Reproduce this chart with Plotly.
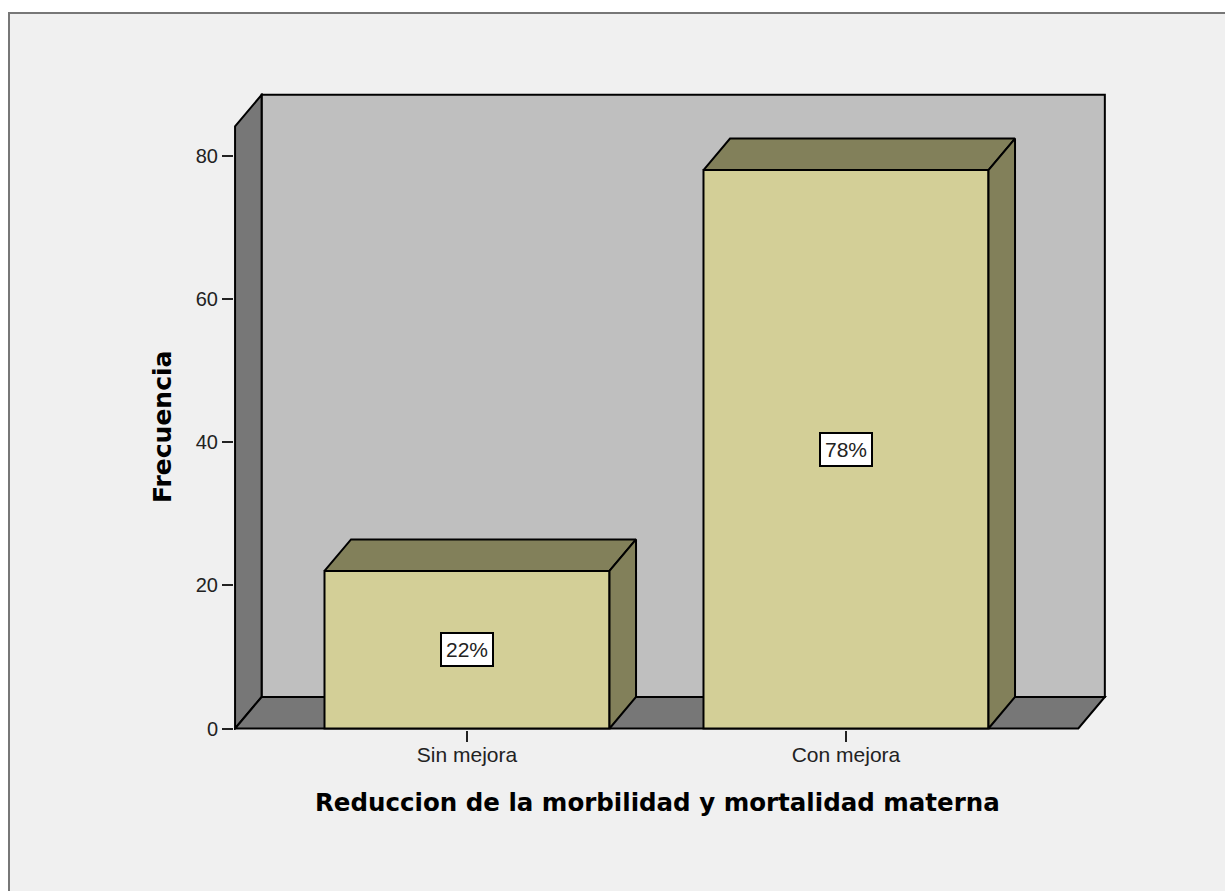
import plotly.graph_objects as go

# Data
categories = ["Sin mejora", "Con mejora"]
positions = [0, 1]
frecuencia = [22, 78]
etiquetas = ["22%", "78%"]
y_ticks = [0, 20, 40, 60, 80]

# 3D look: depth of the extrusion in axis units
bar_width = 0.752
depth_x = 0.07
depth_y = 4.4

# box of the 3D room, front plane
x_left = -0.612
x_right = 1.613
y_top = 84.1

# axis limits leave room so the outer lines of the room are not clipped
x_range = [-0.6148, 1.6887]
y_range = [-0.21, 88.76]

face = "#d3cf97"
shade = "#82805a"
wall = "#bfbfbf"
wall_dark = "#777777"
panel = "#f0f0f0"


def poly_path(points):
    return "M " + " L ".join(f"{x},{y}" for x, y in points) + " Z"


fig = go.Figure()

# front of the bars
fig.add_trace(go.Bar(
    x=positions, y=frecuencia, width=bar_width,
    marker=dict(color=face, line=dict(color="black", width=2)),
    hoverinfo="skip", showlegend=False,
))

# top and side faces of the bars
for pos, val in zip(positions, frecuencia):
    x0 = pos - bar_width / 2
    x1 = pos + bar_width / 2
    fig.add_trace(go.Scatter(
        x=[x0, x0 + depth_x, x1 + depth_x, x1, x0],
        y=[val, val + depth_y, val + depth_y, val, val],
        mode="lines", fill="toself", fillcolor=shade,
        line=dict(color="black", width=2),
        hoverinfo="skip", showlegend=False,
    ))
    fig.add_trace(go.Scatter(
        x=[x1, x1 + depth_x, x1 + depth_x, x1, x1],
        y=[0, depth_y, val + depth_y, val, 0],
        mode="lines", fill="toself", fillcolor=shade,
        line=dict(color="black", width=2),
        hoverinfo="skip", showlegend=False,
    ))

shapes = [
    # panel behind the chart, its right and bottom edges are cut by the image
    dict(type="rect", xref="paper", yref="paper", x0=9 / 1225, x1=1.1, y0=-0.1, y1=1 - 13 / 891,
         line=dict(color="#777777", width=2), fillcolor=panel, layer="below"),
    # back wall
    dict(type="path", layer="below", fillcolor=wall, line=dict(color="black", width=2),
         path=poly_path([(x_left + depth_x, depth_y), (x_right + depth_x, depth_y),
                         (x_right + depth_x, y_top + depth_y), (x_left + depth_x, y_top + depth_y)])),
    # left wall
    dict(type="path", layer="below", fillcolor=wall_dark, line=dict(color="black", width=2),
         path=poly_path([(x_left, 0), (x_left + depth_x, depth_y),
                         (x_left + depth_x, y_top + depth_y), (x_left, y_top)])),
    # floor
    dict(type="path", layer="below", fillcolor=wall_dark, line=dict(color="black", width=2),
         path=poly_path([(x_left, 0), (x_right, 0), (x_right + depth_x, depth_y), (x_left + depth_x, depth_y)])),
]

annotations = [
    dict(x=pos, y=val / 2, text=txt, showarrow=False, bgcolor="white",
         bordercolor="black", borderwidth=2, borderpad=0, width=50, height=31,
         font=dict(family="Liberation Sans", size=21, color="#222222"))
    for pos, val, txt in zip(positions, frecuencia, etiquetas)
]

# axis titles, placed by hand because the chart centres them on the front plane
annotations.append(dict(
    xref="paper", yref="paper", x=657.5 / 1225, y=1 - 802 / 891,
    xanchor="center", yanchor="middle",
    text="<b>Reduccion de la morbilidad y mortalidad materna</b>", showarrow=False,
    font=dict(family="DejaVu Sans", size=24.5, color="black"),
))
annotations.append(dict(
    xref="paper", yref="paper", x=162.5 / 1225, y=1 - 427.5 / 891, textangle=-90,
    xanchor="center", yanchor="middle",
    text="<b>Frecuencia</b>", showarrow=False,
    font=dict(family="DejaVu Sans", size=25, color="black"),
))

fig.update_layout(
    width=1225, height=891,
    margin=dict(l=0, r=0, t=0, b=0),
    paper_bgcolor="white",
    plot_bgcolor="rgba(0,0,0,0)",
    shapes=shapes,
    annotations=annotations,
    showlegend=False,
    xaxis=dict(
        domain=[234 / 1225, 1107 / 1225],
        range=x_range, automargin=False,
        tickvals=positions, ticktext=categories,
        ticks="outside", ticklen=11, tickwidth=2, tickcolor="#222222",
        ticklabelstandoff=-5,
        showgrid=False, zeroline=False, showline=False,
        tickfont=dict(family="Liberation Sans", size=21, color="#222222"),
    ),
    yaxis=dict(
        domain=[(891 - 730) / 891, (891 - 93) / 891],
        range=y_range, automargin=False,
        tickvals=y_ticks,
        ticks="outside", ticklen=11, tickwidth=2, tickcolor="#222222",
        showgrid=False, zeroline=False, showline=False,
        tickfont=dict(family="Liberation Sans", size=20, color="#222222"),
    ),
)

# the page keeps the browser's default body margin otherwise
fig.write_html("out.html", config=dict(displayModeBar=False),
               post_script="document.body.style.margin = '0';")
